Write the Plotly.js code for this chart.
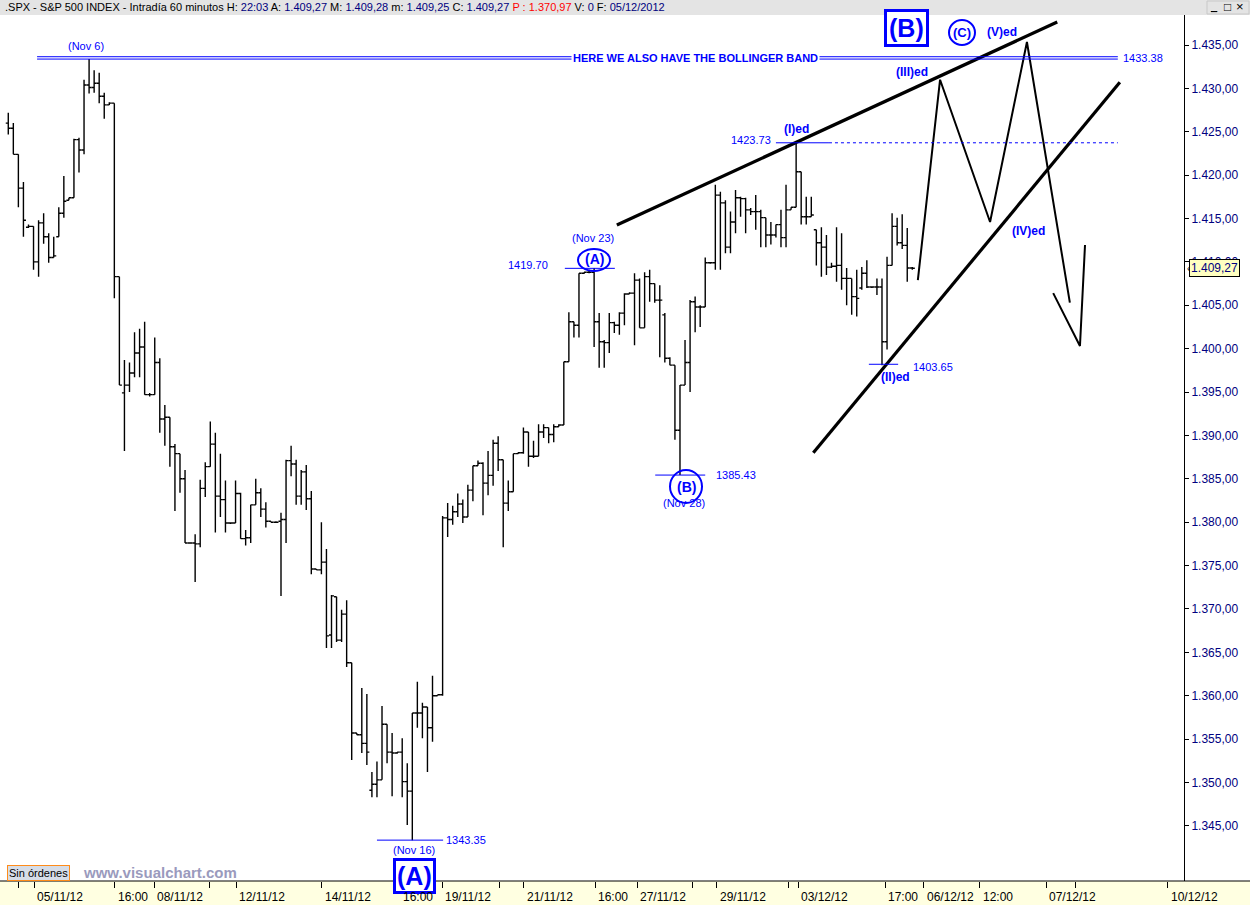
<!DOCTYPE html>
<html><head><meta charset="utf-8">
<script src="https://cdn.plot.ly/plotly-3.0.1.min.js"></script>
<style>html,body{margin:0;padding:0;background:#fff;overflow:hidden}#chart{width:1250px;height:905px}</style>
</head><body><div id="chart"></div><script>
// Hourly bars of .SPX, 02/11/2012 - 05/12/2012
const opens = [
1426.0,1425.4,1422.4,1418.5,1414.0,1414.1,1410.0,1414.5,1412.9,1410.5,
1412.9,1415.6,1417.1,1417.4,1424.1,1422.9,1430.4,1430.1,1430.6,1429.1,
1428.1,1428.3,1408.3,1394.9,1395.8,1397.2,1399.5,1400.2,1394.7,1394.7,
1398.4,1391.9,1392.1,1388.7,1387.9,1385.0,1377.6,1377.6,1377.5,1383.9,
1386.4,1389.0,1383.0,1382.6,1379.9,1379.9,1383.3,1378.1,1378.2,1382.0,
1383.4,1381.5,1380.1,1380.0,1380.1,1380.3,1387.1,1386.7,1383.0,1385.8,
1382.7,1374.6,1374.5,1375.4,1367.0,1371.4,1366.4,1369.4,1363.8,1355.7,
1355.5,1354.5,1349.1,1349.8,1350.3,1356.7,1353.5,1353.4,1353.5,1350.1,
1349.0,1358.0,1358.0,1358.7,1356.3,1360.0,1360.1,1380.5,1380.3,1381.2,
1382.1,1380.6,1383.7,1386.5,1386.8,1384.5,1385.4,1389.1,1387.2,1382.2,
1383.5,1387.9,1388.0,1390.4,1387.6,1387.6,1390.4,1390.9,1390.1,1391.0,
1391.2,1398.5,1403.1,1402.7,1408.7,1408.8,1408.8,1403.1,1400.8,1400.7,
1403.0,1402.7,1404.1,1406.3,1406.4,1407.9,1402.4,1408.3,1407.5,1405.6,
1403.9,1398.9,1398.1,1390.6,1395.8,1398.4,1405.4,1404.8,1404.8,1409.9,
1409.9,1417.7,1416.8,1411.7,1414.6,1417.4,1417.3,1416.0,1415.8,1415.8,
1415.1,1413.1,1413.1,1414.3,1412.8,1416.0,1416.3,1420.4,1415.2,1415.2,
1413.7,1412.2,1411.7,1409.4,1409.5,1409.6,1408.1,1408.1,1406.0,1407.0,
1408.7,1407.1,1407.1,1407.1,1400.8,1409.6,1414.1,1412.2,1411.9,1409.3];
const highs = [
1427.2,1426.0,1422.4,1419.2,1414.3,1414.1,1414.8,1415.6,1413.3,1412.9,
1416.3,1419.9,1417.4,1424.2,1424.3,1431.0,1433.38,1432.1,1431.8,1429.5,
1428.4,1428.3,1408.3,1398.7,1398.4,1401.9,1402.3,1403.1,1394.9,1401.3,
1398.9,1393.5,1392.1,1389.0,1387.9,1386.0,1377.7,1378.6,1384.9,1386.9,
1391.6,1390.3,1387.9,1384.8,1380.0,1384.8,1383.4,1379.1,1382.0,1385.0,
1383.9,1382.3,1380.1,1380.1,1381.1,1387.2,1388.8,1387.2,1386.0,1386.6,
1383.6,1374.6,1380.0,1376.9,1371.6,1371.4,1369.9,1371.0,1363.8,1355.7,
1360.9,1360.2,1351.2,1352.4,1358.8,1356.7,1355.7,1353.5,1355.1,1352.2,
1358.0,1361.6,1359.2,1358.7,1362.3,1360.1,1380.7,1382.2,1381.9,1383.3,
1382.6,1384.3,1386.5,1387.1,1386.9,1388.2,1389.5,1389.9,1387.2,1384.8,
1387.9,1388.1,1390.9,1390.4,1389.4,1391.3,1391.3,1390.9,1391.3,1391.3,
1398.5,1404.2,1403.1,1408.7,1408.8,1409.1,1409.3,1404.1,1401.0,1404.1,
1403.1,1404.2,1406.4,1406.5,1408.7,1408.1,1408.8,1409.1,1407.5,1407.3,
1404.1,1399.0,1398.1,1395.8,1401.0,1405.6,1406.0,1405.0,1410.5,1410.0,
1418.9,1418.1,1417.1,1415.8,1418.3,1417.5,1417.4,1416.2,1417.7,1416.0,
1415.1,1414.6,1414.3,1416.0,1418.9,1416.3,1423.73,1420.4,1417.5,1417.5,
1413.7,1414.0,1413.1,1409.9,1414.0,1413.3,1409.3,1408.1,1409.1,1409.4,
1410.2,1407.1,1408.1,1408.1,1410.6,1415.6,1415.1,1415.5,1413.9,1409.4];
const lows = [
1424.7,1422.4,1416.3,1412.9,1413.9,1409.1,1408.3,1412.1,1409.9,1410.5,
1412.9,1415.1,1417.1,1417.4,1420.3,1422.4,1429.4,1429.5,1428.3,1426.5,
1428.1,1405.8,1395.8,1388.2,1395.0,1396.7,1396.7,1394.7,1394.5,1394.7,
1390.3,1388.8,1386.4,1381.3,1383.4,1377.6,1377.5,1373.1,1377.1,1382.9,
1386.4,1378.8,1380.6,1378.8,1379.8,1379.9,1378.1,1377.3,1377.6,1382.0,
1380.6,1379.4,1380.0,1379.9,1371.5,1377.6,1385.3,1382.0,1382.0,1381.4,
1374.0,1374.5,1374.0,1365.5,1365.5,1366.2,1366.2,1363.3,1352.6,1355.5,
1353.4,1352.0,1348.3,1348.3,1350.3,1352.2,1348.4,1353.3,1348.3,1345.1,
1343.35,1356.3,1355.1,1351.2,1354.7,1360.0,1360.0,1378.3,1379.7,1380.6,
1379.9,1380.6,1382.4,1386.5,1380.8,1383.1,1384.2,1385.9,1377.1,1381.3,
1383.5,1387.9,1387.9,1386.4,1387.4,1387.6,1389.7,1389.1,1389.2,1391.0,
1391.2,1398.5,1401.3,1401.3,1408.6,1408.7,1400.2,1397.8,1397.8,1399.5,
1401.8,1401.6,1402.7,1406.3,1400.4,1402.4,1402.4,1405.4,1405.3,1399.0,
1398.4,1398.1,1389.5,1385.43,1395.8,1395.0,1401.9,1402.5,1404.8,1409.8,
1409.1,1409.1,1411.0,1411.0,1413.3,1415.2,1413.3,1415.4,1413.7,1411.7,
1411.7,1412.0,1412.8,1411.7,1411.7,1416.0,1416.3,1414.3,1414.3,1415.2,
1409.6,1408.3,1408.5,1409.3,1407.7,1406.8,1405.0,1403.9,1403.7,1406.8,
1407.0,1407.0,1406.2,1398.1,1399.9,1409.6,1411.9,1411.5,1407.7,1409.1];
const closes = [
1425.4,1422.4,1418.5,1414.8,1414.1,1410.0,1414.5,1412.9,1410.5,1410.7,
1415.6,1417.0,1417.4,1424.1,1422.9,1430.4,1430.1,1430.6,1429.1,1428.1,
1428.3,1408.3,1395.8,1395.8,1397.2,1399.5,1400.2,1394.7,1394.7,1398.4,
1391.9,1392.1,1388.7,1387.9,1385.0,1377.6,1377.6,1377.5,1383.9,1386.4,
1389.0,1383.0,1382.6,1379.9,1379.9,1383.3,1378.1,1378.2,1382.0,1383.4,
1381.5,1380.1,1380.0,1380.0,1380.3,1387.1,1386.7,1383.0,1385.8,1382.7,
1374.6,1374.5,1375.4,1366.9,1371.5,1366.4,1369.4,1363.8,1355.7,1355.5,
1354.5,1353.5,1349.8,1350.3,1356.7,1353.5,1353.4,1353.5,1350.1,1349.0,
1358.0,1358.0,1358.7,1356.3,1360.0,1360.1,1380.5,1380.3,1381.2,1382.1,
1380.6,1383.7,1386.5,1386.8,1384.5,1385.4,1389.1,1387.2,1382.2,1383.5,
1387.9,1388.0,1390.4,1387.6,1387.6,1390.4,1390.9,1390.1,1391.0,1391.2,
1398.5,1403.1,1402.7,1408.7,1408.8,1408.8,1403.1,1400.8,1400.7,1403.0,
1402.7,1404.1,1406.3,1406.4,1407.9,1402.4,1408.3,1407.5,1405.6,1405.6,
1398.9,1398.1,1390.6,1395.8,1398.4,1405.4,1404.8,1404.8,1409.9,1409.9,
1417.7,1416.8,1411.7,1414.6,1417.4,1417.3,1416.0,1415.8,1415.8,1415.1,
1413.1,1413.1,1414.3,1412.8,1416.0,1416.3,1420.4,1415.2,1415.2,1415.4,
1412.2,1411.7,1409.4,1409.5,1409.6,1408.1,1408.1,1406.0,1405.8,1408.7,
1407.1,1407.1,1407.1,1400.8,1409.6,1414.1,1412.2,1411.9,1409.3,1409.27];
const barIndex = opens.map((_, i) => i);

// x-axis ticks (bar slot positions) and their labels
const tickSlots  = [2.1, 5.1, 21.1, 28.9, 39.9, 45.1, 62.1, 77.6, 85.9, 97.2, 102.1, 116.2, 124.5, 135.4, 140.3, 154.4, 156.4, 173.6, 181.3, 192.4, 205.5, 211.4, 229.6];
const tickLabels = ['', '05/11/12', '16:00', '08/11/12', '', '12/11/12', '14/11/12', '16:00', '19/11/12', '', '21/11/12', '16:00', '27/11/12', '', '29/11/12', '', '03/12/12', '17:00', '06/12/12', '12:00', '07/12/12', '', '10/12/12'];
// price-axis labels
const priceTicks = [1345, 1350, 1355, 1360, 1365, 1370, 1375, 1380, 1385, 1390, 1395, 1400, 1405, 1410, 1415, 1420, 1425, 1430, 1435];

// Hand-drawn Elliott-wave projection (slot, price)
const projX = [180.1, 184.5, 194.4, 201.7, 210.2];
const projY = [1407.9, 1431.0, 1414.6, 1435.35, 1405.3];
const projVX = [206.9, 212.2, 213.2];
const projVY = [1406.4, 1400.3, 1411.95];
const upperLineX = [120.5, 207.7], upperLineY = [1414.25, 1437.65];
const lowerLineX = [159.4, 220.1], lowerLineY = [1388.0, 1430.7];

const lastPrice = 1409.27;
const BLUE = '#0000FF', NAVY = '#000080';
const FONT = 'Liberation Sans, Arial, sans-serif';

const PW = 1184, PH = 866, TOP = 15;
const px = x => x / PW;
const py = y => 1 - (y - TOP) / PH;

const traces = [
  {type: 'ohlc', x: barIndex, open: opens, high: highs, low: lows, close: closes,
   increasing: {line: {color: '#000', width: 1.4}}, decreasing: {line: {color: '#000', width: 1.4}},
   tickwidth: 0.5, hoverinfo: 'skip', showlegend: false},
  {type: 'scatter', mode: 'lines', x: upperLineX, y: upperLineY, line: {color: '#000', width: 3.2}, hoverinfo: 'skip', showlegend: false},
  {type: 'scatter', mode: 'lines', x: lowerLineX, y: lowerLineY, line: {color: '#000', width: 3.2}, hoverinfo: 'skip', showlegend: false},
  {type: 'scatter', mode: 'lines', x: projX, y: projY, line: {color: '#000', width: 2}, hoverinfo: 'skip', showlegend: false},
  {type: 'scatter', mode: 'lines', x: projVX, y: projVY, line: {color: '#000', width: 2}, hoverinfo: 'skip', showlegend: false}
];

function txt(x, y, text, opt) {
  opt = opt || {};
  return Object.assign({xref: 'paper', yref: 'paper', x: px(x), y: py(y), text: text, showarrow: false,
    xanchor: opt.xa || 'center', yanchor: 'middle',
    font: {family: FONT, size: opt.size || 11, color: opt.color || BLUE}}, opt.extra || {});
}
const B = s => '<b>' + s + '</b>';
const V = s => '<span style="color:#000080">' + s + '</span>';

const annotations = [
  // title bar
  txt(3, 7, '.SPX - S&P 500 INDEX - Intradía 60 minutos H: ' + V('22:03') + ' A: ' + V('1.409,27') + ' M: ' + V('1.409,28') + ' m: ' + V('1.409,25') + ' C: ' + V('1.409,27') + ' <span style="color:#ff0000">P : 1.370,97</span> V: ' + V('0') + ' F: ' + V('05/12/2012'), {xa: 'left', size: 11, color: '#000'}),
  txt(1214, 6, '<u>_</u>', {size: 11, color: '#000'}),
  txt(1227, 7, '□', {size: 12, color: '#000'}),
  txt(1240, 7, '×', {size: 13, color: '#000'}),
  // labels
  txt(86, 46, '(Nov 6)'),
  txt(695, 58, B('HERE WE ALSO HAVE THE BOLLINGER BAND'), {extra: {bgcolor: '#fff', borderpad: 1}}),
  txt(1121, 58, '1433.38', {xa: 'left'}),
  txt(593, 238, '(Nov 23)'),
  txt(594, 259, B('(A)'), {size: 14}),
  txt(528, 265, '1419.70'),
  txt(751, 140, '1423.73'),
  txt(796, 129, B('(I)ed'), {size: 12}),
  txt(912, 72, B('(III)ed'), {size: 12}),
  txt(962, 32, B('(C)'), {size: 13}),
  txt(1002, 32, B('(V)ed'), {size: 12}),
  txt(1028, 231, B('(IV)ed'), {size: 12}),
  txt(895, 377, B('(II)ed'), {size: 12}),
  txt(933, 367, '1403.65'),
  txt(736, 475, '1385.43'),
  txt(686, 487, B('(B)'), {size: 14}),
  txt(684, 503, '(Nov 28)'),
  txt(466, 840, '1343.35'),
  txt(414, 850, '(Nov 16)'),
  txt(414.5, 875.5, B('(A)'), {size: 25, extra: {bgcolor: '#fff', bordercolor: BLUE, borderwidth: 3, borderpad: 1}}),
  txt(906.5, 28, B('(B)'), {size: 25, extra: {bgcolor: '#fff', bordercolor: BLUE, borderwidth: 3, borderpad: 2}}),
  // footer
  txt(39, 873, 'Sin órdenes', {size: 11, color: '#000', extra: {bgcolor: '#D6DDE8', bordercolor: '#FF8C1A', borderwidth: 1, borderpad: 1}}),
  txt(160, 872, B('www.visualchart.com'), {size: 15, color: '#9A9ABD'}),
  // last price tag
  {xref: 'paper', yref: 'y', x: px(1185), y: lastPrice, xanchor: 'left', yanchor: 'middle', showarrow: false,
   text: '‹', font: {family: FONT, size: 10, color: '#000'}},
  {xref: 'paper', yref: 'y', x: px(1189), y: lastPrice, xanchor: 'left', yanchor: 'middle', showarrow: false,
   text: '1.409,27', bgcolor: '#FFFFC0', bordercolor: '#000', borderwidth: 1, borderpad: 1,
   font: {family: FONT, size: 12, color: NAVY}}
];
// x-axis tick labels (left aligned, just right of the tick)
tickSlots.forEach((s, k) => {
  if (tickLabels[k]) annotations.push({xref: 'x', yref: 'paper', x: s, y: py(897), xanchor: 'left', yanchor: 'middle',
    xshift: 1, showarrow: false, text: tickLabels[k], font: {family: FONT, size: 12, color: '#000'}});
});

const shapes = [
  // title bar and bottom time band
  {type: 'rect', xref: 'paper', yref: 'paper', x0: 0, x1: px(1250), y0: 1, y1: py(0), fillcolor: '#E4E4E4', line: {width: 0}, layer: 'below'},
  {type: 'rect', xref: 'paper', yref: 'paper', x0: 0, x1: px(1250), y0: py(905), y1: 0, fillcolor: '#FFFFE1', line: {width: 0}, layer: 'below'},
  {type: 'line', xref: 'paper', yref: 'paper', x0: 0, x1: px(1250), y0: 0, y1: 0, line: {color: '#000', width: 1}},
  // Bollinger double line at the Nov 6 high
  {type: 'line', xref: 'x', yref: 'y', x0: 5.7, x1: 219.7, y0: 1433.38, y1: 1433.38, line: {color: BLUE, width: 1}},
  {type: 'line', xref: 'x', yref: 'y', x0: 5.7, x1: 219.7, y0: 1433.65, y1: 1433.65, line: {color: BLUE, width: 1}},
  // 1423.73 level
  {type: 'line', xref: 'x', yref: 'y', x0: 152.0, x1: 162.5, y0: 1423.73, y1: 1423.73, line: {color: BLUE, width: 1}},
  {type: 'line', xref: 'x', yref: 'y', x0: 162.5, x1: 219.7, y0: 1423.73, y1: 1423.73, line: {color: BLUE, width: 1, dash: '3px,3px'}},
  // pivots
  {type: 'line', xref: 'x', yref: 'y', x0: 110.2, x1: 120.1, y0: 1409.26, y1: 1409.26, line: {color: BLUE, width: 1}},
  {type: 'line', xref: 'x', yref: 'y', x0: 128.1, x1: 138.0, y0: 1385.43, y1: 1385.43, line: {color: BLUE, width: 1}},
  {type: 'line', xref: 'x', yref: 'y', x0: 73.0, x1: 86.1, y0: 1343.35, y1: 1343.35, line: {color: BLUE, width: 1}},
  {type: 'line', xref: 'x', yref: 'y', x0: 170.4, x1: 176.2, y0: 1398.2, y1: 1398.2, line: {color: BLUE, width: 1}},
  // circles
  {type: 'circle', xref: 'paper', yref: 'paper', x0: px(578), x1: px(610), y0: py(249), y1: py(271), line: {color: BLUE, width: 2}},
  {type: 'circle', xref: 'paper', yref: 'paper', x0: px(670), x1: px(702), y0: py(470), y1: py(503), line: {color: BLUE, width: 2}},
  {type: 'circle', xref: 'paper', yref: 'paper', x0: px(949), x1: px(975), y0: py(20), y1: py(45), line: {color: BLUE, width: 2}},
  // window buttons outline
  {type: 'rect', xref: 'paper', yref: 'paper', x0: px(1207), x1: px(1249), y0: py(14), y1: py(1), line: {color: '#C8C8C8', width: 1}, layer: 'below'}
];

const layout = {
  width: 1250, height: 905,
  margin: {l: 0, r: 66, t: 15, b: 24, pad: 0},
  paper_bgcolor: '#fff', plot_bgcolor: '#fff',
  separators: ',.',
  showlegend: false, dragmode: false, hovermode: false,
  xaxis: {range: [-1.64, 232.8], showgrid: false, zeroline: false, showline: false,
    tickmode: 'array', tickvals: tickSlots, ticktext: tickLabels.map(() => ''), ticks: 'outside', ticklen: 6, tickcolor: '#000',
    showticklabels: false, rangeslider: {visible: false}, fixedrange: true},
  yaxis: {range: [1338.64, 1438.46], side: 'right', showgrid: false, zeroline: false,
    showline: true, linecolor: '#000', linewidth: 1, mirror: false,
    tickmode: 'array', tickvals: priceTicks,
    ticks: 'outside', ticklen: 4, tickcolor: '#000', tickformat: ',.2f',
    tickfont: {family: FONT, size: 12, color: NAVY}, fixedrange: true},
  annotations: annotations, shapes: shapes
};

Plotly.newPlot('chart', traces, layout, {displayModeBar: false, staticPlot: true});
</script></body></html>
